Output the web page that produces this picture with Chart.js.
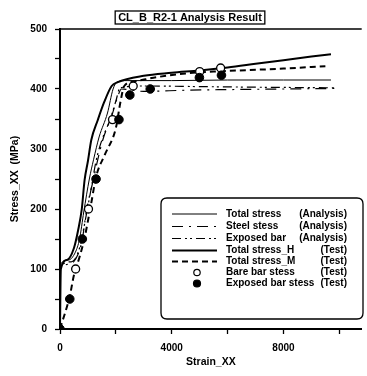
<!DOCTYPE html>
<html>
<head>
<meta charset="utf-8">
<script src="https://cdn.jsdelivr.net/npm/chart.js@4/dist/chart.umd.min.js"></script>
<style>
html,body{margin:0;padding:0;background:#fff;}
#wrap{width:367px;height:376px;position:relative;}
</style>
</head>
<body>
<div id="wrap"><canvas id="c" width="367" height="376"></canvas></div>
<script>
// ---- data (strain in micro-strain, stress in MPa) ----
const totalAnaStrain = [0, 20, 300, 550, 700, 850, 1050, 1200, 1400, 1700, 1900, 2050, 2400, 4000, 6000, 8000, 9700];
const totalAnaStress = [0, 108, 115, 128, 150, 195, 250, 282, 320, 360, 400, 412, 414, 414, 415, 415, 415];

const steelAnaStrain = [0, 20, 350, 650, 800, 950, 1200, 1350, 1550, 1850, 2050, 2200, 3000, 4500, 6000, 8000, 9950];
const steelAnaStress = [0, 100, 108, 125, 150, 198, 250, 282, 318, 355, 385, 400, 396, 398, 399, 400, 401];

const exposedAnaStrain = [0, 20, 400, 700, 900, 1100, 1300, 1500, 1800, 2000, 2150, 3000, 5000, 7000, 9900];
const exposedAnaStress = [0, 104, 112, 135, 180, 230, 282, 315, 350, 380, 402, 405, 404, 403, 402];

const totalHStrain = [0, 30, 250, 500, 650, 780, 880, 1000, 1120, 1350, 1580, 1850, 2050, 3000, 4000, 5000, 6000, 7000, 8000, 9000, 9700];
const totalHStress = [0, 100, 115, 135, 165, 200, 248, 280, 315, 348, 378, 405, 411, 422, 427, 431, 436, 442, 448, 454, 458];

const totalMStrain = [0, 350, 500, 700, 880, 1100, 1300, 1600, 2000, 2170, 2300, 2700, 3500, 4500, 5500, 7000, 8000, 9500];
const totalMStress = [0, 55, 90, 120, 152, 205, 255, 290, 335, 380, 405, 413, 420, 426, 429, 432, 434, 438];

const bareStrain = [560, 1020, 1880, 2620, 5000, 5750];
const bareStress = [100, 200, 349, 405, 429, 435];

const exposedTestStrain = [0, 350, 800, 1290, 2110, 2500, 3230, 4990, 5780];
const exposedTestStress = [0, 50, 150, 250, 349, 390, 400, 419, 423];

const xTickValues = [0, 2000, 4000, 6000, 8000, 10000];
const xTickLabels = ['0', '', '4000', '', '8000', ''];
const yTickStep = 50;

const legendLabels = ['Total stress', 'Steel stess', 'Exposed bar', 'Total stress_H', 'Total stress_M', 'Bare bar stess', 'Exposed bar stess'];
const legendTags = ['(Analysis)', '(Analysis)', '(Analysis)', '(Test)', '(Test)', '(Test)', '(Test)'];
const chartTitle = 'CL_B_R2-1 Analysis Result';
const xTitle = 'Strain_XX';
const yTitle = 'Stress_XX  (MPa)';

function pts(xs, ys) { return xs.map((x, i) => ({x: x, y: ys[i]})); }

const styles = [
  {width: 1, dash: []},
  {width: 1.2, dash: [11, 6, 2, 6]},
  {width: 1.2, dash: [9, 4, 2, 3, 2, 4]},
  {width: 2, dash: []},
  {width: 2, dash: [6, 4]}
];

const lineSets = [
  [totalAnaStrain, totalAnaStress],
  [steelAnaStrain, steelAnaStress],
  [exposedAnaStrain, exposedAnaStress],
  [totalHStrain, totalHStress],
  [totalMStrain, totalMStress]
];

const datasets = lineSets.map((s, i) => ({
  label: legendLabels[i],
  data: pts(s[0], s[1]),
  showLine: true,
  borderColor: '#000',
  borderWidth: styles[i].width,
  borderDash: styles[i].dash,
  pointRadius: 0,
  cubicInterpolationMode: 'monotone',
  fill: false,
  order: 3
}));
datasets.push({
  label: legendLabels[5],
  data: pts(bareStrain, bareStress),
  showLine: false,
  pointRadius: 4,
  pointBackgroundColor: '#fff',
  pointBorderColor: '#000',
  pointBorderWidth: 1.3,
  order: 2
});
datasets.push({
  label: legendLabels[6],
  data: pts(exposedTestStrain, exposedTestStress),
  showLine: false,
  pointRadius: 4.3,
  pointBackgroundColor: '#000',
  pointBorderColor: '#000',
  pointBorderWidth: 1,
  order: 1
});

const FONT = '"Liberation Sans", Arial, sans-serif';

const decor = {
  id: 'decor',
  afterDraw(chart) {
    const ctx = chart.ctx;
    const a = chart.chartArea;
    ctx.save();
    // top frame line
    ctx.strokeStyle = '#000';
    ctx.lineWidth = 1.5;
    ctx.beginPath();
    ctx.moveTo(a.left, a.top);
    ctx.lineTo(a.right, a.top);
    ctx.stroke();

    // title box
    ctx.font = 'bold 11px ' + FONT;
    const tw = ctx.measureText(chartTitle).width;
    const cx = 190, cy = 17.5;
    ctx.lineWidth = 1.3;
    ctx.strokeRect(cx - tw / 2 - 3, cy - 6.5, tw + 6, 13);
    ctx.fillStyle = '#000';
    ctx.textAlign = 'center';
    ctx.textBaseline = 'middle';
    ctx.fillText(chartTitle, cx, cy + 0.5);

    // legend box
    const lx = 161, ly = 198, lw = 202, lh = 121, r = 6;
    ctx.fillStyle = '#fff';
    ctx.lineWidth = 1.3;
    ctx.beginPath();
    ctx.moveTo(lx + r, ly);
    ctx.lineTo(lx + lw - r, ly);
    ctx.quadraticCurveTo(lx + lw, ly, lx + lw, ly + r);
    ctx.lineTo(lx + lw, ly + lh - r);
    ctx.quadraticCurveTo(lx + lw, ly + lh, lx + lw - r, ly + lh);
    ctx.lineTo(lx + r, ly + lh);
    ctx.quadraticCurveTo(lx, ly + lh, lx, ly + lh - r);
    ctx.lineTo(lx, ly + r);
    ctx.quadraticCurveTo(lx, ly, lx + r, ly);
    ctx.closePath();
    ctx.fill();
    ctx.stroke();

    const rows = [214, 226.5, 238.5, 250.5, 261.5, 272.5, 283.5];
    ctx.font = 'bold 10px ' + FONT;
    ctx.textBaseline = 'middle';
    for (let i = 0; i < 7; i++) {
      const y = rows[i];
      ctx.strokeStyle = '#000';
      if (i < 5) {
        ctx.lineWidth = styles[i].width;
        ctx.setLineDash(styles[i].dash);
        ctx.beginPath();
        ctx.moveTo(172, y);
        ctx.lineTo(217, y);
        ctx.stroke();
        ctx.setLineDash([]);
      } else {
        ctx.beginPath();
        ctx.arc(197, y, i === 5 ? 3.2 : 3.5, 0, Math.PI * 2);
        ctx.lineWidth = 1.2;
        ctx.fillStyle = i === 5 ? '#fff' : '#000';
        ctx.fill();
        ctx.stroke();
      }
      ctx.fillStyle = '#000';
      ctx.textAlign = 'left';
      ctx.fillText(legendLabels[i], 226, y);
      ctx.textAlign = 'right';
      ctx.fillText(legendTags[i], 347, y);
    }
    ctx.restore();
  }
};

new Chart(document.getElementById('c'), {
  type: 'scatter',
  data: {datasets: datasets},
  options: {
    responsive: false,
    animation: false,
    layout: {padding: {top: 29, right: 0, left: 0, bottom: 0}},
    plugins: {legend: {display: false}, tooltip: {enabled: false}, title: {display: false}},
    scales: {
      x: {
        type: 'linear',
        min: 0,
        max: 10800,
        afterBuildTicks(scale) { scale.ticks = xTickValues.map(v => ({value: v})); },
        afterFit(scale) { scale.height = 47; },
        ticks: {
          autoSkip: false,
          maxRotation: 0,
          padding: 8,
          color: '#000',
          font: {family: FONT, size: 10, weight: 'bold'},
          callback: (v) => { const i = xTickValues.indexOf(v); return i >= 0 ? xTickLabels[i] : ''; }
        },
        grid: {drawOnChartArea: false, tickLength: 5, tickWidth: 1.3, color: '#000'},
        border: {display: true, color: '#000', width: 2},
        title: {display: true, text: xTitle, color: '#000', font: {family: FONT, size: 10.5, weight: 'bold'}, padding: {top: 0, bottom: 8}}
      },
      y: {
        type: 'linear',
        min: 0,
        max: 500,
        afterFit(scale) { scale.width = 60; },
        ticks: {
          stepSize: yTickStep,
          autoSkip: false,
          padding: 8,
          color: '#000',
          font: {family: FONT, size: 10, weight: 'bold'},
          callback: (v) => (v % 100 === 0 ? String(v) : '')
        },
        grid: {drawOnChartArea: false, tickLength: 5, tickWidth: 1.3, color: '#000'},
        border: {display: true, color: '#000', width: 2},
        title: {display: true, text: yTitle, color: '#000', font: {family: FONT, size: 10.5, weight: 'bold'}, padding: {top: 9, bottom: 0}}
      }
    }
  },
  plugins: [decor]
});
</script>
</body>
</html>
